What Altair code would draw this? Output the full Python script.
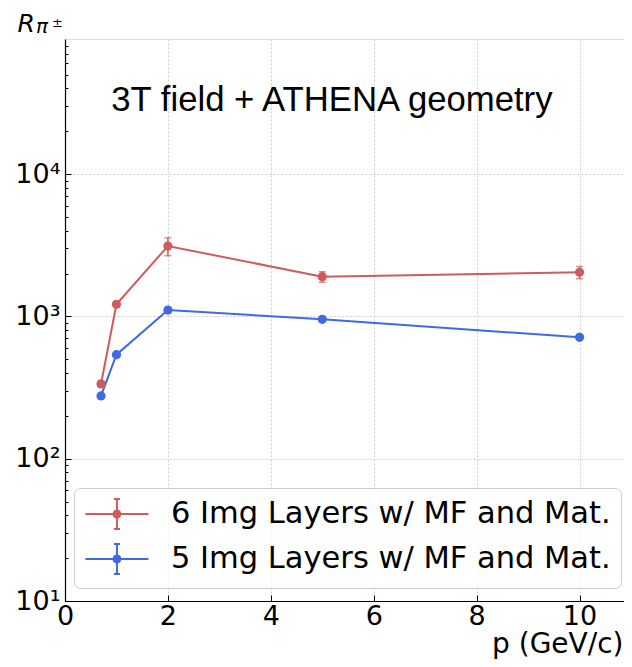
import altair as alt
import pandas as pd

# ---- data ----
series_names = ["6 Img Layers w/ MF and Mat.", "5 Img Layers w/ MF and Mat."]
series_colors = ["#cd5c5c", "#4169e1"]

p_values = [0.7, 1.0, 2.0, 5.0, 10.0]
r_six = [335, 1216, 3120, 1900, 2040]
err_six = [15, 50, 450, 160, 200]
r_five = [276, 538, 1108, 953, 713]
err_five = [8, 15, 30, 25, 20]

x_ticks = [0, 2, 4, 6, 8, 10]
y_major = [10, 100, 1000, 10000]
y_minor = [m * d for d in [10, 100, 1000, 10000] for m in range(2, 10)]

ann_x = [0.9]
ann_y = [27700]
ann_text = ["3T field + ATHENA geometry"]

rows = []
for name, vals, errs in [(series_names[0], r_six, err_six), (series_names[1], r_five, err_five)]:
    for p, r, e in zip(p_values, vals, errs):
        rows.append({"series": name, "p": p, "R": r, "lo": r - e, "hi": r + e})
df = pd.DataFrame(rows)
ann_df = pd.DataFrame({"x": ann_x, "y": ann_y, "t": ann_text})

FONT = "DejaVu Sans"
xs = alt.Scale(domain=[0, 11], nice=False, zero=False)
ys = alt.Scale(type="log", domain=[10, 88900], nice=False)
cscale = alt.Scale(domain=series_names, range=series_colors)

# legend glyph: horizontal line + error bar with caps + dot (concentric rings)
s = 1.13
parts = [
    f"M{s-2.1:.3f},0H{s+2.1:.3f}",
    f"M{s:.3f},-1V1",
    f"M{s-0.2:.3f},-1H{s+0.2:.3f}",
    f"M{s-0.2:.3f},1H{s+0.2:.3f}",
]
for r in [0.035, 0.1, 0.165, 0.23]:
    parts.append(f"M{s-r:.3f},0A{r},{r} 0 1,0 {s+r:.3f},0A{r},{r} 0 1,0 {s-r:.3f},0")
sym_path = "".join(parts)

legend = alt.Legend(
    title=None, orient="none", legendX=9, legendY=449,
    symbolType=sym_path, symbolSize=900, symbolStrokeWidth=2, symbolOpacity=1,
    labelFont=FONT, labelFontSize=30.5, labelColor="black", labelOffset=55, labelLimit=0,
    padding=10, rowPadding=7, strokeColor="#cccccc", fillColor="rgba(255,255,255,0.8)",
    cornerRadius=6,
)

base = alt.Chart(df)

main_x_axis = alt.Axis(
    values=x_ticks, grid=True, gridDash=[2, 2], gridColor="#cccccc", gridWidth=1,
    ticks=False, domainColor="black", domainWidth=1.2,
    labelFont=FONT, labelFontSize=27, labelColor="black", labelPadding=2,
    labelFlush=False, labelOverlap=False,
    title="p (GeV/c)", titleFont=FONT, titleFontSize=28, titleFontWeight="normal",
    titleColor="black", titleX=558, titleY=51, titleAlign="right",
    titleBaseline="alphabetic", titleAnchor="start",
)
main_y_axis = alt.Axis(
    values=y_major, grid=True, gridDash=[2, 2], gridColor="#cccccc", gridWidth=1,
    ticks=False, domainColor="black", domainWidth=1.2,
    labelFont=FONT, labelFontSize=27, labelColor="black", labelPadding=5,
    labelFlush=False, labelOverlap=False, labelBaseline="middle",
    labelExpr="datum.value == 10 ? '10¹' : datum.value == 100 ? '10²' : datum.value == 1000 ? '10³' : '10⁴'",
    title="R", titleFont=FONT, titleFontSize=25, titleFontStyle="italic",
    titleFontWeight="normal", titleColor="black", titleAngle=0,
    titleX=-48, titleY=-8, titleAlign="left", titleBaseline="alphabetic",
)

line = base.mark_line(strokeWidth=2).encode(
    x=alt.X("p:Q", scale=xs, axis=main_x_axis),
    y=alt.Y("R:Q", scale=ys, axis=main_y_axis),
    color=alt.Color("series:N", scale=cscale, legend=legend),
    detail="series:N",
)

err = base.mark_rule(strokeWidth=1.5).encode(
    x=alt.X("p:Q", scale=xs, axis=None),
    y=alt.Y("lo:Q", scale=ys, axis=None),
    y2="hi:Q",
    color=alt.Color("series:N", scale=cscale, legend=None),
)
cap_lo = base.mark_tick(orient="horizontal", size=7, thickness=1.5).encode(
    x=alt.X("p:Q", scale=xs, axis=None),
    y=alt.Y("lo:Q", scale=ys, axis=None),
    color=alt.Color("series:N", scale=cscale, legend=None),
)
cap_hi = base.mark_tick(orient="horizontal", size=7, thickness=1.5).encode(
    x=alt.X("p:Q", scale=xs, axis=None),
    y=alt.Y("hi:Q", scale=ys, axis=None),
    color=alt.Color("series:N", scale=cscale, legend=None),
)

points = base.mark_point(filled=True, size=85, opacity=1).encode(
    x=alt.X("p:Q", scale=xs, axis=None),
    y=alt.Y("R:Q", scale=ys, axis=None),
    color=alt.Color("series:N", scale=cscale, legend=None),
)

ticks_major = base.mark_point(opacity=0).encode(
    x=alt.X("p:Q", scale=xs, axis=alt.Axis(
        orient="bottom", offset=-6, values=x_ticks, ticks=True, tickSize=6,
        tickColor="black", tickWidth=1, labels=False, domain=False, grid=False, title=None)),
    y=alt.Y("R:Q", scale=ys, axis=alt.Axis(
        orient="left", offset=-6, values=y_major, ticks=True, tickSize=6,
        tickColor="black", tickWidth=1, labels=False, domain=False, grid=False, title=None)),
)
ticks_minor = base.mark_point(opacity=0).encode(
    x=alt.X("p:Q", scale=xs, axis=None),
    y=alt.Y("R:Q", scale=ys, axis=alt.Axis(
        orient="left", offset=-3, values=y_minor, ticks=True, tickSize=3,
        tickColor="black", tickWidth=1, labels=False, domain=False, grid=False, title=None)),
)

annot = alt.Chart(ann_df).mark_text(
    font="Liberation Sans", fontSize=34.7, align="left", baseline="alphabetic", color="black"
).encode(
    x=alt.X("x:Q", scale=xs, axis=None),
    y=alt.Y("y:Q", scale=ys, axis=None),
    text="t:N",
)

sub_pi = alt.Chart(pd.DataFrame({"s": ["π"]})).mark_text(
    font=FONT, fontSize=20, fontStyle="italic", align="left", baseline="alphabetic", color="black"
).encode(x=alt.value(-29), y=alt.value(-6), text="s:N")
sub_pm = alt.Chart(pd.DataFrame({"s": ["±"]})).mark_text(
    font=FONT, fontSize=13, align="left", baseline="alphabetic", color="black"
).encode(x=alt.value(-13), y=alt.value(-12), text="s:N")

chart = alt.layer(
    line, err, cap_lo, cap_hi, points, ticks_major, ticks_minor, annot, sub_pi, sub_pm
).resolve_axis(x="independent", y="independent").properties(
    width=566, height=562,
    autosize=alt.AutoSizeParams(type="none"),
    padding={"left": 57, "top": 31, "right": -7, "bottom": 58},
).configure_view(stroke="#222222", strokeWidth=1).configure(background="white")

chart.save("out.html", embed_options={"renderer": "svg", "actions": False})
